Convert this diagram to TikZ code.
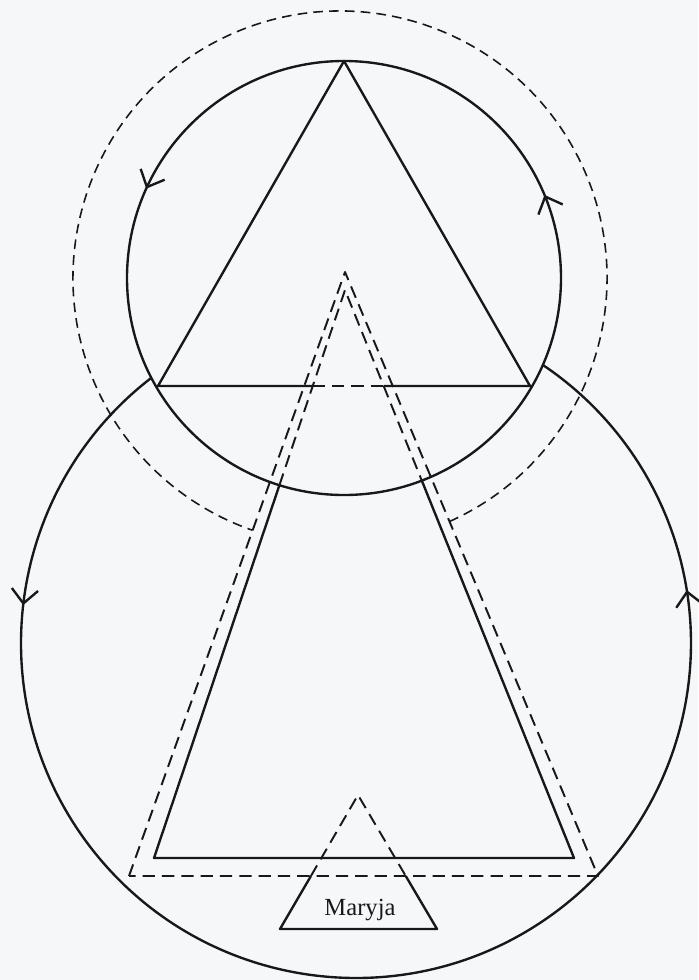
\documentclass[tikz,border=0pt]{standalone}
\usepackage{fontspec}
\setmainfont{Liberation Serif}
\usetikzlibrary{arrows.meta,decorations.markings}
\definecolor{paper}{RGB}{246,247,249}
\definecolor{ink}{RGB}{24,24,24}

\begin{document}
\begin{tikzpicture}[
  x=0.02cm, y=0.02cm,
  color=ink, line width=1.35pt, line join=round,
  hidden/.style={dash pattern=on 7pt off 4pt, line width=1.1pt},
  halo/.style={dash pattern=on 5.5pt off 3.5pt, line width=0.9pt},
  turn/.style={postaction={decorate, decoration={markings,
    mark=at position #1 with {\arrow{Straight Barb[length=8pt,width=15pt]}}}}},
  maryja text/.style={font=\fontsize{14}{16}\selectfont, inner sep=0pt}
]
  \fill[paper] (0,0) rectangle (698,-980);
  \useasboundingbox (0,0) rectangle (698,-980);

  \coordinate (S) at (344,-278);
  \coordinate (D) at (340,-278);
  \coordinate (L) at (356,-643);
  \coordinate (T) at (344,-61);
  \coordinate (TL) at (158,-386);
  \coordinate (TR) at (530,-386);
  \coordinate (A) at (345,-290);
  \coordinate (C1) at (154,-858);
  \coordinate (C2) at (574,-858);
  \coordinate (E1) at (279.4,-485.2);
  \coordinate (E2) at (421.8,-480.6);
  \coordinate (O) at (345,-272);
  \coordinate (O1) at (129,-876);
  \coordinate (O2) at (598,-876);
  \coordinate (M) at (358,-795);
  \coordinate (M1) at (280,-929);
  \coordinate (M2) at (437,-929);
  \coordinate (B1) at (intersection of A--C1 and TL--TR);
  \coordinate (B2) at (intersection of A--C2 and TL--TR);
  \coordinate (N1) at (intersection of M--M1 and O1--O2);
  \coordinate (N2) at (intersection of M--M2 and O1--O2);

  % circles, both turning the same way
  \draw[turn=0.0625, turn=0.4325] (S) circle[radius=217];
  \draw[turn=0.159, turn=0.837] (L) ++(127.66:335) arc[start angle=127.66, end angle=416.1, radius=335];
  \draw[halo] (D) ++(-65.8:267) arc[start angle=-65.8, end angle=250.9, radius=267];

  \draw (B1) -- (TL) -- (T) -- (TR) -- (B2);
  \draw[hidden] (B1) -- (B2);
  \draw[hidden] (E1) -- (A) -- (E2);
  \draw (E1) -- (C1) -- (C2) -- (E2);
  \draw[hidden] (O1) -- (O) -- (O2) -- cycle;
  \draw[hidden] (N1) -- (M) -- (N2);
  \draw (N1) -- (M1) -- (M2) -- (N2);
  \node[maryja text] (maryja) at (360,-910) {Maryja};
\end{tikzpicture}
\end{document}
